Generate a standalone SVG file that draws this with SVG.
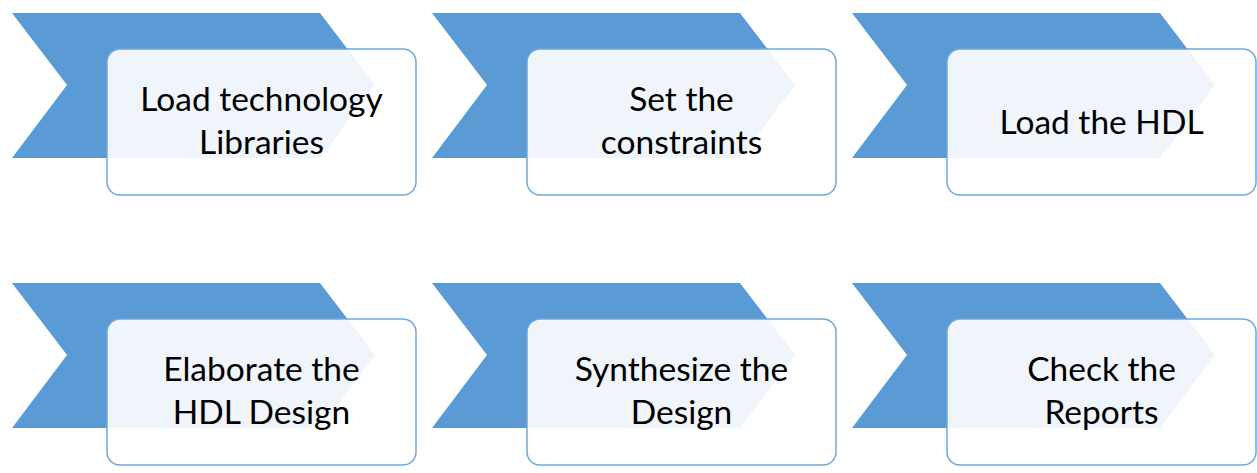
<svg xmlns="http://www.w3.org/2000/svg" width="1257" height="473" viewBox="0 0 1257 473">
<defs>
<style>
.chev{fill:#5b9bd5;}
.box{fill:#ffffff;fill-opacity:0.9;stroke:#6fa8dc;stroke-width:1.5;}
.lbl{font-family:Lato,"Open Sans","Liberation Sans",sans-serif;font-size:33.5px;fill:#000000;text-anchor:middle;}
</style>
<polygon id="chevShape" class="chev" points="12,13 320,13 375,85 320,158 12,158 67,85"/>
</defs>
<rect width="1257" height="473" fill="#ffffff"/>
<g id="connectors"></g>
<g id="n1">
<use href="#chevShape"/>
<rect class="box" x="107" y="49" width="309" height="146" rx="13"/>
<text class="lbl" x="261.5" y="111">Load technology</text>
<text class="lbl" x="261.5" y="154">Libraries</text>
</g>
<g id="n2" transform="translate(420,0)">
<use href="#chevShape"/>
<rect class="box" x="107" y="49" width="309" height="146" rx="13"/>
<text class="lbl" x="261.5" y="111">Set the</text>
<text class="lbl" x="261.5" y="154">constraints</text>
</g>
<g id="n3" transform="translate(840,0)">
<use href="#chevShape"/>
<rect class="box" x="107" y="49" width="309" height="146" rx="13"/>
<text class="lbl" x="261.5" y="134">Load the HDL</text>
</g>
<g id="n4" transform="translate(0,270)">
<use href="#chevShape"/>
<rect class="box" x="107" y="49" width="309" height="146" rx="13"/>
<text class="lbl" x="261.5" y="111">Elaborate the</text>
<text class="lbl" x="261.5" y="154">HDL Design</text>
</g>
<g id="n5" transform="translate(420,270)">
<use href="#chevShape"/>
<rect class="box" x="107" y="49" width="309" height="146" rx="13"/>
<text class="lbl" x="261.5" y="111">Synthesize the</text>
<text class="lbl" x="261.5" y="154">Design</text>
</g>
<g id="n6" transform="translate(840,270)">
<use href="#chevShape"/>
<rect class="box" x="107" y="49" width="309" height="146" rx="13"/>
<text class="lbl" x="261.5" y="111">Check the</text>
<text class="lbl" x="261.5" y="154">Reports</text>
</g>
</svg>
